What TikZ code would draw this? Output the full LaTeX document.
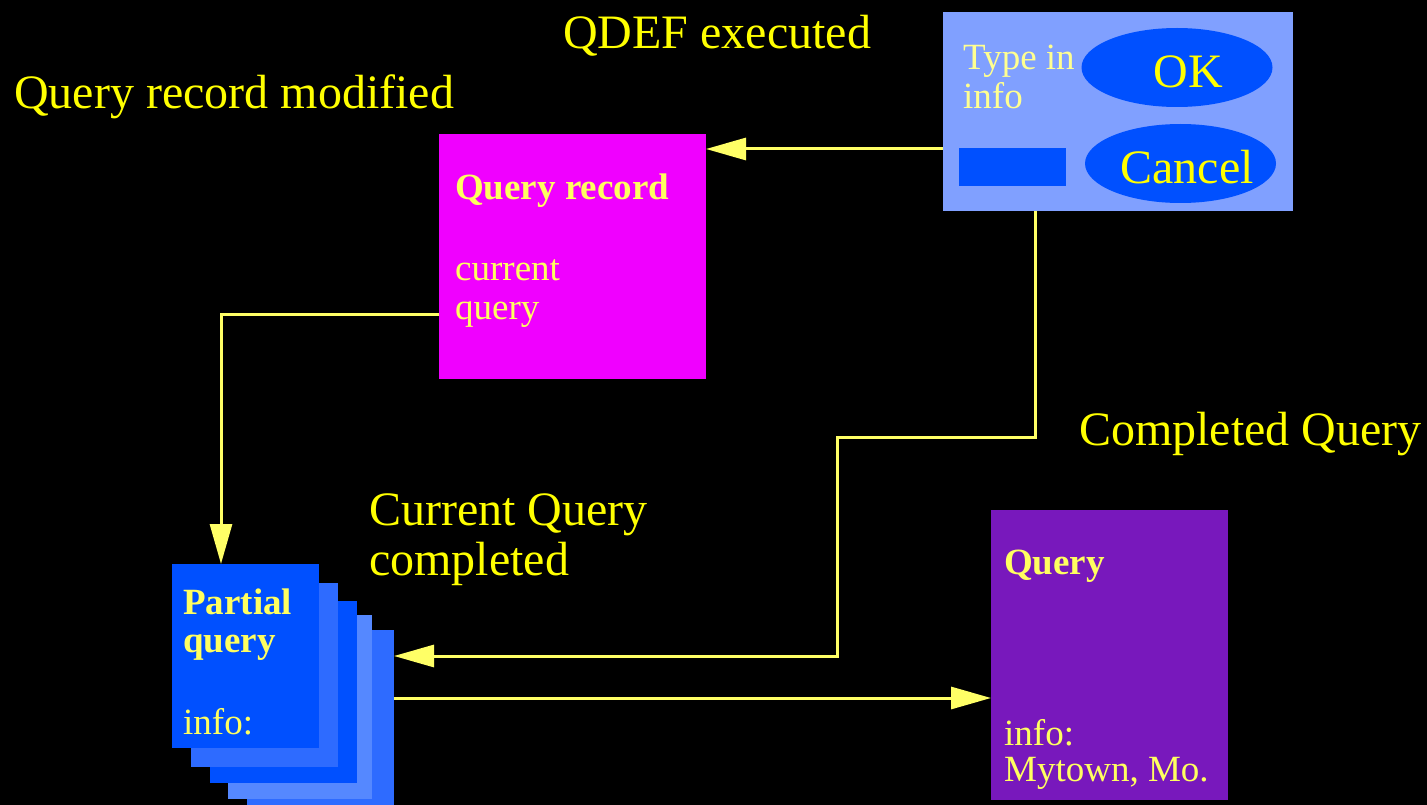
\documentclass[tikz,border=0pt]{standalone}
\usepackage{fontspec}
\setmainfont{Liberation Serif}
\usetikzlibrary{arrows.meta,shapes.geometric}
\definecolor{dlgbg}{HTML}{80A0FF}
\definecolor{bblue}{HTML}{0050FF}
\definecolor{mblue}{HTML}{2E6BFF}
\definecolor{lblue}{HTML}{5588FF}
\definecolor{mag}{HTML}{F000FF}
\definecolor{purp}{HTML}{7818BC}
\definecolor{lbl}{HTML}{FFFF00}
\definecolor{btxt}{HTML}{FFFF60}
\definecolor{dtxt}{HTML}{FFFF90}
\definecolor{wire}{HTML}{FFFF66}
\tikzset{
  panel/.style={draw=none, anchor=north west, inner sep=0pt, outer sep=0pt},
  biglabel/.style={anchor=base west, inner sep=0pt, text=lbl, font=\fontsize{48}{50}\selectfont},
  boxtext/.style={anchor=base west, inner sep=0pt, text=btxt, font=\fontsize{37}{39}\selectfont, align=left},
  boxhead/.style={anchor=base west, inner sep=0pt, text=btxt, font=\fontsize{37}{38}\selectfont\bfseries, align=left},
  btn/.style={ellipse, fill=bblue, inner sep=0pt, text=lbl, font=\fontsize{48}{50}\selectfont},
  wireline/.style={draw=wire, line width=3pt, -{Triangle[length=40pt,width=22pt]}}
}
\begin{document}
\begin{tikzpicture}[x=1pt,y=-1pt]
\useasboundingbox (0,0) rectangle (1427,805);
\fill[black] (0,0) rectangle (1427,805);

% dialog
\node[panel, fill=dlgbg, minimum width=350pt, minimum height=199pt] (dlg) at (943,12) {};
\node[btn, minimum width=191pt, minimum height=79pt] (ok) at (1177,67.5) {};
\node[anchor=base, inner sep=0pt, text=lbl, font=\fontsize{48}{50}\selectfont] (oktxt) at (1188,88) {OK};
\node[btn, minimum width=191pt, minimum height=79pt] (cancel) at (1180.5,163.5) {};
\node[anchor=base, inner sep=0pt, text=lbl, font=\fontsize{48}{50}\selectfont] (canceltxt) at (1187,184) {Cancel};
\node[panel, fill=bblue, minimum width=107pt, minimum height=38pt] (field) at (959,148) {};
\node[boxtext, text=dtxt] (typein) at (963,70) {Type in};
\node[boxtext, text=dtxt] (typeinfo) at (963,109) {info};

% query record
\node[panel, fill=mag, minimum width=267pt, minimum height=245pt] (qr) at (439,134) {};
\node[boxhead] (qrh) at (455,200) {Query record};
\node[boxtext] (qrc) at (455,280) {current};
\node[boxtext] (qrq) at (455,319) {query};

% partial query stack
\node[panel, fill=mblue, minimum width=147pt, minimum height=190pt] (pq5) at (247,630) {};
\node[panel, fill=lblue, minimum width=144pt, minimum height=184pt] (pq4) at (228,615) {};
\node[panel, fill=bblue, minimum width=147pt, minimum height=182pt] (pq3) at (210,601) {};
\node[panel, fill=mblue, minimum width=147pt, minimum height=184pt] (pq2) at (191,583) {};
\node[panel, fill=bblue, minimum width=147pt, minimum height=184pt] (pq1) at (172,564) {};
\node[boxhead] (pqh1) at (183,614) {Partial};
\node[boxhead] (pqh2) at (183,652) {query};
\node[boxtext] (pqi) at (183,734) {info:};

% query
\node[panel, fill=purp, minimum width=237pt, minimum height=290pt] (qd) at (991,510) {};
\node[boxhead] (qdh) at (1004,574) {Query};
\node[boxtext] (qdi) at (1004,745) {info:};
\node[boxtext] (qdm) at (1004,781) {Mytown, Mo.};

% labels
\node[biglabel] (l1) at (563,49) {QDEF executed};
\node[biglabel] (l2) at (14,109) {Query record modified};
\node[biglabel] (l3) at (1079,445) {Completed Query};
\node[biglabel] (l4a) at (369,525) {Current Query};
\node[biglabel] (l4b) at (369,575) {completed};

% connectors
\coordinate (a1) at (943,149);
\draw[wireline] (a1) -- (a1 -| qr.east);
\coordinate (a2) at (439,314);
\draw[wireline] (a2) -| ([xshift=-24.5pt]pq1.north);
\coordinate (a3) at (1035,211);
\coordinate (a3b) at (837,437);
\coordinate (a3c) at (837,656);
\draw[wireline] (a3) |- (a3b) -- (a3c) -- (a3c -| pq5.east);
\coordinate (a4) at (394,698);
\draw[wireline] (a4) -- (a4 -| qd.west);
\end{tikzpicture}
\end{document}
